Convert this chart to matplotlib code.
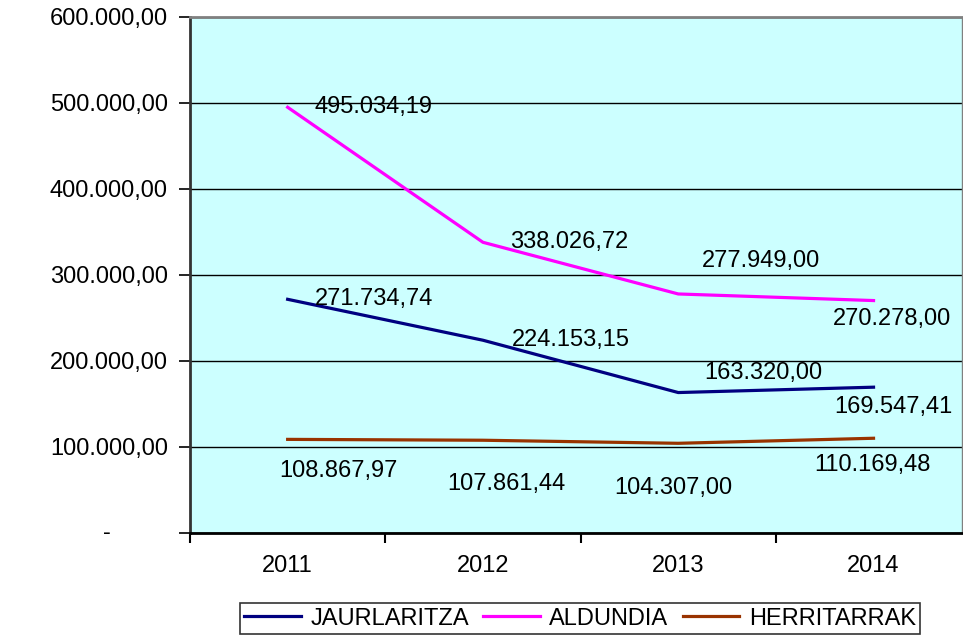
import matplotlib.pyplot as plt
from matplotlib.ticker import FixedLocator

plt.rcParams['font.family'] = ['Liberation Sans', 'DejaVu Sans']

years = ['2011', '2012', '2013', '2014']
jaurlaritza = [271734.74, 224153.15, 163320.00, 169547.41]
aldundia = [495034.19, 338026.72, 277949.00, 270278.00]
herritarrak = [108867.97, 107861.44, 104307.00, 110169.48]

# offsets (px) of the data labels, as Excel placed them
lab_jaur = [(27, 0, 'left'), (29, 0, 'left'), (26, 20, 'left'), (20, -20, 'center')]
lab_ald = [(27, 0, 'left'), (27, 0, 'left'), (24, 33, 'left'), (18, -18, 'center')]
lab_her = [(51, -32, 'center'), (23, -44, 'center'), (-5, -45, 'center'), (-1, -27, 'center')]

FS = 17


def fmt(v):
    s = f"{v:,.2f}"
    return s.replace(',', 'X').replace('.', ',').replace('X', '.')


fig = plt.figure(figsize=(9.63, 6.38), dpi=100)
ax = fig.add_axes([190 / 963, 105 / 638, 772 / 963, 516 / 638])
ax.set_facecolor('#CCFFFF')

x = range(len(years))
series = [
    (jaurlaritza, '#000080', 'JAURLARITZA', lab_jaur),
    (aldundia, '#FF00FF', 'ALDUNDIA', lab_ald),
    (herritarrak, '#993300', 'HERRITARRAK', lab_her),
]
for vals, col, name, labs in series:
    ax.plot(x, vals, '-', color=col, lw=2.3, label=name, zorder=3)
    for i, v in enumerate(vals):
        dx, dy, ha = labs[i]
        ax.annotate(fmt(v), (i, v), xytext=(dx, dy), textcoords='offset pixels',
                    ha=ha, va='center', fontsize=FS, zorder=4)

ax.set_ylim(0, 600000)
ax.set_xlim(-0.5, 3.453)
yt = [0, 100000, 200000, 300000, 400000, 500000, 600000]
ax.set_yticks(yt)
ax.set_yticklabels([''] + [fmt(v) for v in yt[1:]], fontsize=FS)
ax.text(-0.108, 0, '-', transform=ax.get_yaxis_transform(), ha='center', va='center',
        fontsize=FS)
ax.yaxis.grid(True, color='black', lw=1)
ax.set_axisbelow(True)
ax.tick_params(axis='y', direction='out', length=8, width=1.2, pad=8)

ax.set_xticks(list(x))
ax.set_xticklabels(years, fontsize=FS)
ax.tick_params(axis='x', which='major', length=0, pad=16)
ax.xaxis.set_minor_locator(FixedLocator([-0.5, 0.5, 1.5, 2.5]))
ax.tick_params(axis='x', which='minor', direction='out', length=7, width=1.5)

ax.spines['left'].set_linewidth(2)
ax.spines['left'].set_color('#333333')
ax.spines['bottom'].set_linewidth(2)
ax.spines['top'].set_color('#808080')
ax.spines['top'].set_linewidth(2)
ax.spines['right'].set_color('#808080')
ax.spines['right'].set_linewidth(1)

leg = fig.legend(loc='upper center', bbox_to_anchor=(580 / 963, 47 / 638), ncol=3,
                 fontsize=FS, frameon=True, fancybox=False, handlelength=2.4,
                 handletextpad=0.4, columnspacing=0.6, borderpad=0.2)
leg.get_frame().set_edgecolor('black')
leg.get_frame().set_linewidth(1.2)

fig.savefig('out.png', dpi=100)
